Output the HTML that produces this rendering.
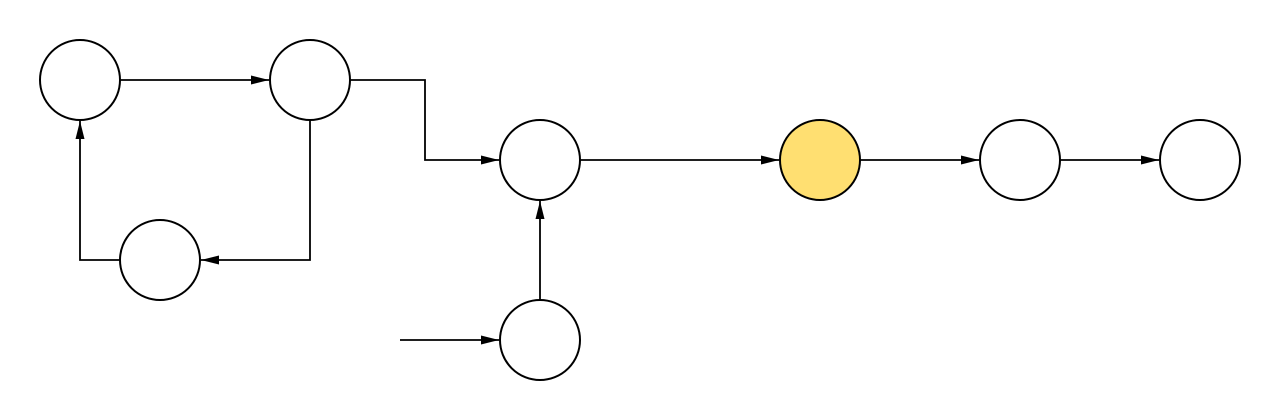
<!DOCTYPE html>
<html><head><meta charset="utf-8"><style>html,body{margin:0;padding:0;background:#fff}svg{display:block}</style></head>
<body>
<svg width="1280" height="420" viewBox="0 0 1280 420" xmlns="http://www.w3.org/2000/svg">
<defs>
<marker id="a" markerWidth="20" markerHeight="12" refX="19" refY="6" orient="auto" markerUnits="userSpaceOnUse">
<path d="M1,1.5 L19,6 L1,10.5 Z" fill="#000"/>
</marker>
</defs>
<g fill="none" stroke="#000" stroke-width="1.8" marker-end="url(#a)">
<path d="M120,80 H269"/>
<path d="M350,80 H425 V160 H499"/>
<path d="M310,120 V260 H201"/>
<path d="M120,260 H80 V121"/>
<path d="M580,160 H779"/>
<path d="M860,160 H979"/>
<path d="M1060,160 H1159"/>
<path d="M540,300 V201"/>
<path d="M400,340 H499"/>
</g>
<g fill="#fff" stroke="#000" stroke-width="2">
<circle cx="80" cy="80" r="40"/>
<circle cx="310" cy="80" r="40"/>
<circle cx="160" cy="260" r="40"/>
<circle cx="540" cy="160" r="40"/>
<circle cx="820" cy="160" r="40" fill="#FFDF71"/>
<circle cx="1020" cy="160" r="40"/>
<circle cx="1200" cy="160" r="40"/>
<circle cx="540" cy="340" r="40"/>
</g>
</svg>
</body></html>
